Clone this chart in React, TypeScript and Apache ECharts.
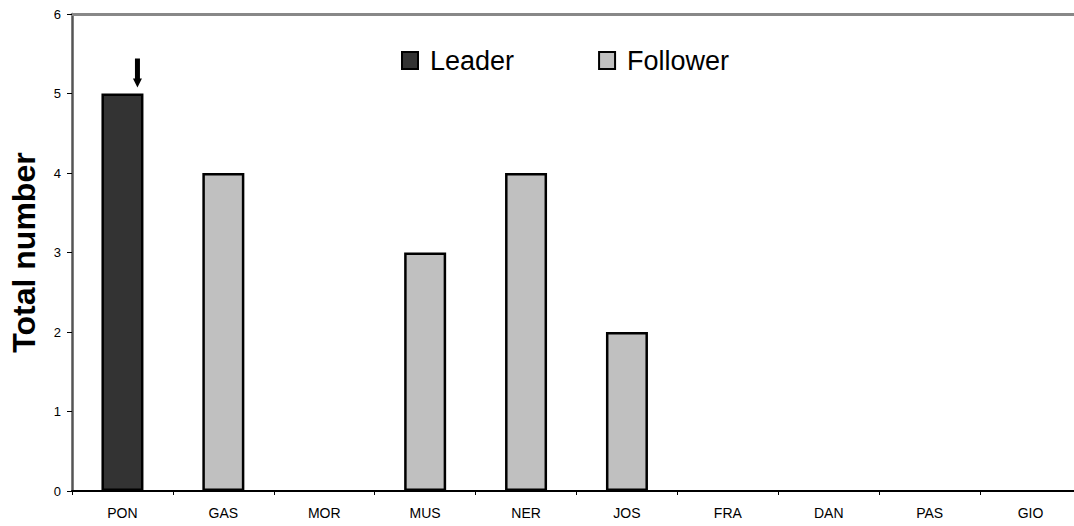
import React, { useEffect, useRef } from "react";
import * as echarts from "echarts";

const categories = ["PON", "GAS", "MOR", "MUS", "NER", "JOS", "FRA", "DAN", "PAS", "GIO"];
const leaderValues: (number | null)[] = [5, null, null, null, null, null, null, null, null, null];
const followerValues: (number | null)[] = [null, 4, null, 3, 4, 2, null, null, null, null];
const yTicks = { min: 0, max: 6, interval: 1 };

export default function App() {
  const ref = useRef<HTMLDivElement>(null);
  useEffect(() => {
    if (!ref.current) return;
    const chart = echarts.init(ref.current, null, { renderer: "svg" });
    const font = "Arial, 'Liberation Sans', sans-serif";
    chart.setOption({
      animation: false,
      backgroundColor: "#ffffff",
      textStyle: { fontFamily: font },
      legend: {
        left: 401,
        top: 47,
        padding: 0,
        itemWidth: 16,
        itemHeight: 17,
        itemGap: 84,
        icon: "rect",
        textStyle: { fontSize: 27, color: "#000", fontFamily: font, padding: [0, 0, 0, 7] },
        data: ["Leader", "Follower"],
      },
      grid: { left: 70, right: 0, top: 14, bottom: 35, containLabel: false },
      xAxis: [
        {
          type: "category",
          data: categories,
          position: "bottom",
          axisLine: { lineStyle: { color: "#000", width: 2 } },
          axisTick: { show: true, length: 4, lineStyle: { color: "#000", width: 1 } },
          axisLabel: { fontSize: 14, color: "#000", margin: 15, fontFamily: font },
        },
        {
          type: "category",
          data: categories,
          position: "top",
          axisLine: { lineStyle: { color: "#888", width: 3 } },
          axisTick: { show: false },
          axisLabel: { show: false },
        },
      ],
      yAxis: {
        type: "value",
        min: yTicks.min,
        max: yTicks.max,
        interval: yTicks.interval,
        name: "Total number",
        nameLocation: "middle",
        nameGap: 32,
        nameTextStyle: { fontSize: 32, fontWeight: "bold", color: "#000", fontFamily: font },
        axisLine: { show: true, lineStyle: { color: "#555", width: 2.5 } },
        axisTick: { show: true, length: 5, lineStyle: { color: "#000", width: 1 } },
        axisLabel: { fontSize: 13, color: "#000", margin: 11, fontFamily: font },
        splitLine: { show: false },
      },
      series: [
        {
          name: "Leader",
          type: "bar",
          stack: "all",
          data: leaderValues,
          barWidth: 42,
          itemStyle: { color: "#333333", borderColor: "#000", borderWidth: 2.5 },
        },
        {
          name: "Follower",
          type: "bar",
          stack: "all",
          data: followerValues,
          barWidth: 42,
          itemStyle: { color: "#c0c0c0", borderColor: "#000", borderWidth: 2.5 },
        },
      ],
    });
    const p = chart.convertToPixel({ xAxisIndex: 0, yAxisIndex: 0 }, [categories[0], leaderValues[0] as number]) as number[];
    if (p) {
      const [px, py] = p;
      chart.setOption({
        graphic: [
          { type: "rect", shape: { x: px + 12.5, y: py - 35, width: 5, height: 21 }, style: { fill: "#000" } },
          {
            type: "polygon",
            shape: { points: [[px + 10.5, py - 15], [px + 19.5, py - 15], [px + 15, py - 6]] },
            style: { fill: "#000" },
          },
        ],
      });
    }
    return () => chart.dispose();
  }, []);
  return (
    <div style={{ position: "fixed", left: 0, top: 0, width: 1074, height: 526, overflow: "hidden" }}>
      <div ref={ref} style={{ position: "absolute", left: 0, top: 0, width: 1081, height: 526 }} />
    </div>
  );
}
